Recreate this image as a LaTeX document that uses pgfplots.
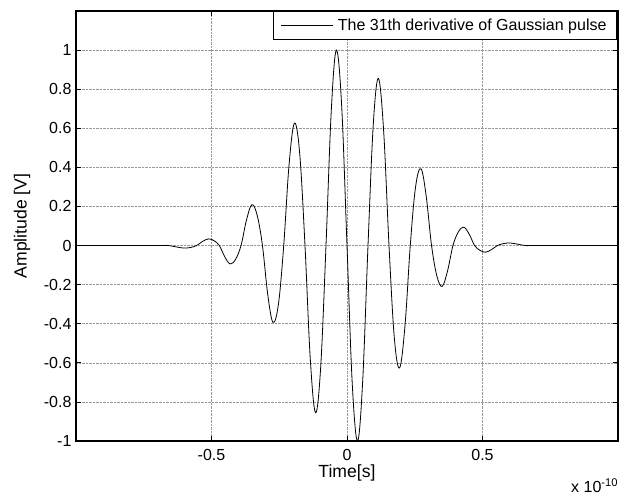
\documentclass[border=0pt]{standalone}
\usepackage{pgfplots}
\pgfplotsset{compat=1.18}
\usepackage{fontspec}
\setmainfont{Liberation Sans}
\begin{document}
\begin{tikzpicture}
\begin{axis}[
  width=542pt, height=430pt, scale only axis,
  xmin=-1, xmax=1, ymin=-1, ymax=1.2,
  xtick={-0.5,0,0.5}, xticklabels={-0.5,0,0.5},
  ytick={-1,-0.8,-0.6,-0.4,-0.2,0,0.2,0.4,0.6,0.8,1},
  yticklabels={-1,-0.8,-0.6,-0.4,-0.2,0,0.2,0.4,0.6,0.8,1},
  tick align=inside, major tick length=5pt,
  tick style={black, line width=0.7pt},
  grid=major, grid style={densely dotted, gray!80, line width=0.6pt},
  axis line style={black, line width=1.2pt},
  ticklabel style={font=\fontsize{16}{19}\selectfont},
  xticklabel style={yshift=-5pt},
  yticklabel style={xshift=-1pt},
  xlabel={Time[s]}, ylabel={Amplitude [V]},
  label style={font=\fontsize{17.6}{21}\selectfont},
  xlabel style={at={(axis description cs:0.5,-0.075)}, anchor=center},
  ylabel style={at={(axis description cs:-0.0996,0.5)}, anchor=center},
  legend style={at={(1,1)}, anchor=north east, xshift=-1pt,
    draw=black, line width=1pt, fill=white,
    font=\fontsize{16}{19}\selectfont,
    inner xsep=8pt, inner ysep=5.5pt, column sep=2pt},
  legend cell align=left,
  legend image code/.code={\draw[#1] (0pt,0pt) -- (52pt,0pt);},
]
\addplot[black, line width=0.8pt, smooth, tension=0.6] coordinates {
(-1,0) (-0.70,0) (-0.66,0) (-0.63,-0.007) (-0.602,-0.013) (-0.578,-0.010)
(-0.555,0) (-0.533,0.021) (-0.511,0.034) (-0.491,0.025) (-0.471,0)
(-0.451,-0.058) (-0.431,-0.094) (-0.411,-0.07) (-0.391,0)
(-0.371,0.13) (-0.351,0.209) (-0.3315,0.155) (-0.312,0)
(-0.2925,-0.25) (-0.273,-0.393) (-0.253,-0.30) (-0.2335,0)
(-0.214,0.41) (-0.194,0.626) (-0.1745,0.47) (-0.155,0)
(-0.1355,-0.58) (-0.116,-0.855) (-0.097,-0.62) (-0.0775,0)
(-0.058,0.69) (-0.039,1.0) (-0.0195,0.71) (0,0)
(0.0195,-0.71) (0.039,-1.0) (0.058,-0.69) (0.0775,0)
(0.097,0.62) (0.116,0.855) (0.1355,0.58) (0.155,0)
(0.1745,-0.47) (0.194,-0.626) (0.214,-0.41) (0.2335,0)
(0.253,0.30) (0.273,0.393) (0.2925,0.25) (0.312,0)
(0.3315,-0.155) (0.351,-0.209) (0.371,-0.13) (0.391,0)
(0.411,0.07) (0.431,0.094) (0.451,0.058) (0.471,0)
(0.491,-0.025) (0.511,-0.034) (0.533,-0.021) (0.555,0)
(0.578,0.010) (0.602,0.013) (0.63,0.007) (0.66,0) (0.70,0) (1,0)
};
\addlegendentry{The 31th derivative of Gaussian pulse}
\end{axis}
\node[anchor=base west, font=\fontsize{16}{19}\selectfont, inner sep=0pt]
  at ([xshift=-47pt,yshift=-52pt]current axis.south east) {x 10\textsuperscript{-10}};
\pgfresetboundingbox
\path ([xshift=-76pt,yshift=-56pt]current axis.south west) rectangle ([xshift=1pt,yshift=11pt]current axis.north east);
\end{tikzpicture}
\end{document}
